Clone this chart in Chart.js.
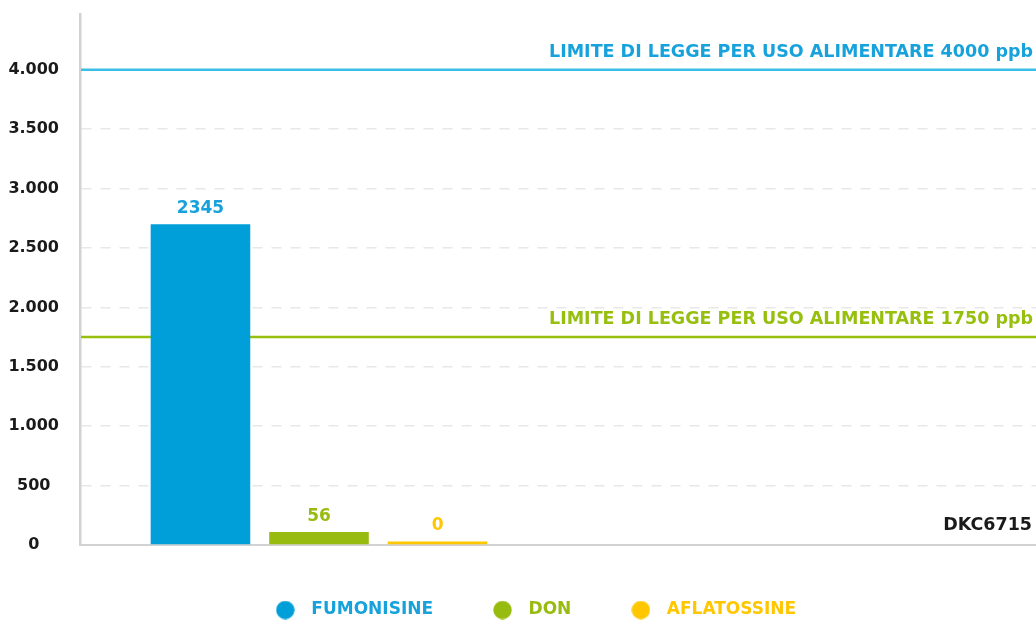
<!DOCTYPE html>
<html><head><meta charset="utf-8">
<script src="https://cdn.jsdelivr.net/npm/chart.js@4.4.0/dist/chart.umd.min.js"></script>
<style>html,body{margin:0;padding:0;background:#fff;} #wrap{width:1036px;height:622px;position:relative;}</style>
</head><body><div id="wrap"><canvas id="c"></canvas></div>
<script>
// ---- data ----
const categories = ['DKC6715', ''];
const seriesNames = ['FUMONISINE', 'DON', 'AFLATOSSINE'];
const fumonisine = [2700];
const don = [110];
const aflatossine = [30];
const valueLabels = ['2345', '56', '0'];
const yTickValues = [0, 500, 1000, 1500, 2000, 2500, 3000, 3500, 4000];
const limitValues = [4000, 1750];
const limitLabels = ['LIMITE DI LEGGE PER USO ALIMENTARE 4000 ppb', 'LIMITE DI LEGGE PER USO ALIMENTARE 1750 ppb'];

// ---- styles ----
const FONT = '"DejaVu Sans", sans-serif';
const seriesColors = ['#019fda', '#97bb0e', '#ffc700'];
const labelColors = ['#17a2dc', '#97bb0e', '#ffc700'];
const limitColors = ['#3bbfe7', '#97bf0d'];
const limitTextColors = ['#17a2dc', '#97bf0d'];
const dark = '#1a1a1a';

function dot(color) {
  const c = document.createElement('canvas');
  c.width = 19; c.height = 19;
  const g = c.getContext('2d');
  g.fillStyle = color; g.beginPath(); g.arc(9.5, 9.5, 9.2, 0, Math.PI * 2); g.fill();
  return c;
}
const dots = seriesColors.map(dot);

function fmt(v) { return String(v).replace(/\B(?=(\d{3})+(?!\d))/g, '.'); }

const refLines = {
  id: 'refLines',
  beforeDatasetsDraw(chart) {
    const {ctx, chartArea: a, scales: {y}} = chart;
    ctx.save();
    limitValues.forEach((v, i) => {
      const py = y.getPixelForValue(v);
      ctx.strokeStyle = limitColors[i];
      ctx.lineWidth = 2.5;
      ctx.beginPath(); ctx.moveTo(a.left + 1, py); ctx.lineTo(a.right, py); ctx.stroke();
      ctx.font = 'bold 17.5px ' + FONT;
      ctx.fillStyle = limitTextColors[i];
      ctx.textAlign = 'right'; ctx.textBaseline = 'alphabetic';
      ctx.fillText(limitLabels[i], a.right - 3, py - 13);
    });
    ctx.restore();
  }
};

const barLabels = {
  id: 'barLabels',
  afterDatasetsDraw(chart) {
    const {ctx, chartArea: a} = chart;
    ctx.save();
    ctx.font = 'bold 17px ' + FONT;
    ctx.textAlign = 'center'; ctx.textBaseline = 'alphabetic';
    chart.data.datasets.forEach((ds, i) => {
      const el = chart.getDatasetMeta(i).data[0];
      ctx.fillStyle = labelColors[i];
      ctx.fillText(valueLabels[i], el.x, el.y - 11);
    });
    ctx.font = 'bold 17.5px ' + FONT;
    ctx.fillStyle = dark;
    ctx.textAlign = 'right';
    ctx.fillText(categories[0], a.right - 4, a.bottom - 15);
    ctx.restore();
  }
};

// centre the legend row like the original (which is offset a little to the left of the plot)
const legendShift = {
  id: 'legendShift',
  afterLayout(chart) {
    const l = chart.legend;
    if (l) { l.left = 28; l.width = l.right - l.left; }
  }
};

new Chart(document.getElementById('c'), {
  type: 'bar',
  data: {
    labels: categories,
    datasets: [
      {label: seriesNames[0], data: fumonisine, backgroundColor: seriesColors[0]},
      {label: seriesNames[1], data: don, backgroundColor: seriesColors[1]},
      {label: seriesNames[2], data: aflatossine, backgroundColor: seriesColors[2]}
    ]
  },
  options: {
    responsive: true,
    maintainAspectRatio: false,
    animation: false,
    events: [],
    categoryPercentage: 0.744,
    barPercentage: 0.84,
    layout: {padding: {left: 0, top: 14, right: 0, bottom: 0}},
    scales: {
      x: {
        grid: {display: false, drawTicks: false},
        ticks: {display: false},
        border: {display: true, color: '#d2d2d2', width: 2},
        afterFit(s) { s.height = 4.5; }
      },
      y: {
        min: 0, max: 4470,
        afterBuildTicks(s) { s.ticks = yTickValues.map(v => ({value: v})); },
        afterFit(s) { s.width = 80; s.paddingTop = 0; s.paddingBottom = 0; },
        grid: {color: '#e8e8e8', lineWidth: 1.5, drawTicks: false},
        border: {display: true, color: '#d2d2d2', width: 2.5, dash: [10, 9]},
        ticks: {
          padding: 21, crossAlign: 'center', color: dark,
          font: {family: FONT, size: 16, weight: 'bold'},
          callback: v => fmt(v)
        }
      }
    },
    plugins: {
      tooltip: {enabled: false},
      legend: {
        position: 'bottom',
        maxHeight: 72.5,
        labels: {
          usePointStyle: true, pointStyleWidth: 35, boxHeight: 13, padding: 52,
          font: {family: FONT, size: 17, weight: 'bold'},
          generateLabels(chart) {
            return chart.data.datasets.map((ds, i) => ({
              text: ds.label, fillStyle: ds.backgroundColor, strokeStyle: ds.backgroundColor,
              lineWidth: 0, pointStyle: dots[i], fontColor: labelColors[i], hidden: false, datasetIndex: i
            }));
          }
        }
      }
    }
  },
  plugins: [refLines, barLabels, legendShift]
});
</script></body></html>
